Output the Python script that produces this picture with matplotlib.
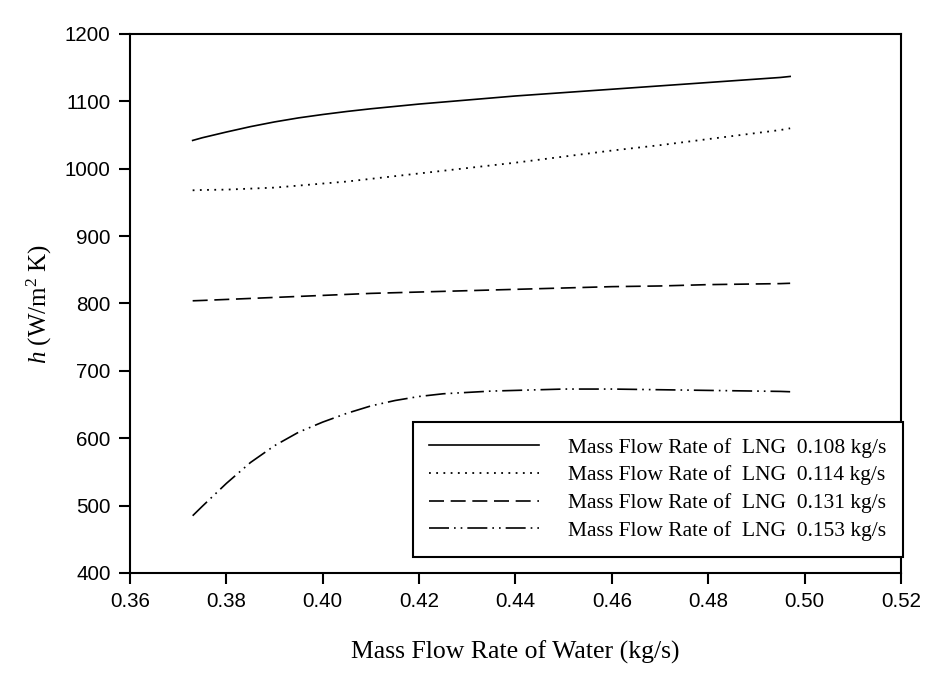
import matplotlib
matplotlib.use("Agg")
import matplotlib.pyplot as plt

plt.rcParams['font.family'] = ['Liberation Serif', 'DejaVu Serif']
plt.rcParams['mathtext.fontset'] = 'custom'
plt.rcParams['mathtext.rm'] = 'Liberation Serif'
plt.rcParams['mathtext.it'] = 'Liberation Serif:italic'

# mass flow rate of water (kg/s)
water = [0.373, 0.375, 0.380, 0.385, 0.390, 0.395, 0.400, 0.405, 0.410,
         0.415, 0.420, 0.425, 0.430, 0.435, 0.440, 0.445, 0.450, 0.455,
         0.460, 0.465, 0.470, 0.475, 0.480, 0.485, 0.490, 0.495, 0.497]

# heat transfer coefficient h (W/m2 K) for each LNG flow rate
h_108 = [1042, 1046, 1054.5, 1062.5, 1069.5, 1075.5, 1080.5, 1085, 1089,
         1092.5, 1096, 1099, 1102, 1105, 1108, 1110.5, 1113, 1115.5,
         1118, 1120.5, 1123, 1125.5, 1128, 1130.5, 1133, 1135.5, 1137]
h_114 = [968, 968.5, 969, 970.5, 972, 975, 978, 981, 985,
         989, 993, 997, 1001, 1005, 1009, 1013.5, 1018, 1022.5,
         1027, 1031, 1035, 1039.5, 1044, 1048.5, 1053, 1057.5, 1060]
h_131 = [804, 804.5, 806, 807.5, 809, 810.5, 812, 813.5, 815,
         816, 817, 818, 819, 820, 821, 822, 823, 824,
         825, 825.5, 826, 827, 828, 828.5, 829, 829.5, 830]
h_153 = [485, 499, 533, 564, 589, 609, 624, 637, 648,
         656, 662, 666, 668, 670, 671, 672, 673, 673,
         673, 672.5, 672, 671.5, 671, 670.5, 670, 669.5, 669]

labels = ['Mass Flow Rate of  LNG  0.108 kg/s',
          'Mass Flow Rate of  LNG  0.114 kg/s',
          'Mass Flow Rate of  LNG  0.131 kg/s',
          'Mass Flow Rate of  LNG  0.153 kg/s']

fig = plt.figure(figsize=(9.47, 6.73), dpi=100)
ax = fig.add_axes([0.1373, 0.1486, 0.8141, 0.8009])

ax.plot(water, h_108, color='black', lw=1.2, linestyle='-', label=labels[0])
ax.plot(water, h_114, color='black', lw=1.3, linestyle=(0, (1, 3)), label=labels[1])
ax.plot(water, h_131, color='black', lw=1.2, linestyle=(0, (9, 4)), label=labels[2])
ax.plot(water, h_153, color='black', lw=1.2, linestyle=(0, (12, 3, 1, 3, 1, 3)), label=labels[3])

ax.set_xlim(0.36, 0.52)
ax.set_ylim(400, 1200)
ax.set_xticks([0.36, 0.38, 0.40, 0.42, 0.44, 0.46, 0.48, 0.50, 0.52])
ax.set_xticklabels(['0.36', '0.38', '0.40', '0.42', '0.44', '0.46', '0.48', '0.50', '0.52'])
ax.set_yticks(range(400, 1201, 100))

for lab in ax.get_xticklabels() + ax.get_yticklabels():
    lab.set_family(['Liberation Sans', 'DejaVu Sans'])
    lab.set_fontsize(14.8)

ax.tick_params(direction='out', length=8, width=1.5, pad=6)
for sp in ax.spines.values():
    sp.set_linewidth(1.5)

ax.set_xlabel('Mass Flow Rate of Water (kg/s)', fontsize=18.5, labelpad=21)
ax.set_ylabel(r'$h$ (W/m$^2$ K)', fontsize=18, labelpad=8)

leg = ax.legend(loc='lower right', bbox_to_anchor=(1.002, 0.03), borderaxespad=0,
                fontsize=15.5, handlelength=5.1, handletextpad=1.35, fancybox=False,
                framealpha=1, edgecolor='black', borderpad=0.75, labelspacing=0.35)
leg.get_frame().set_linewidth(1.5)

fig.savefig('out.png', dpi=100)
